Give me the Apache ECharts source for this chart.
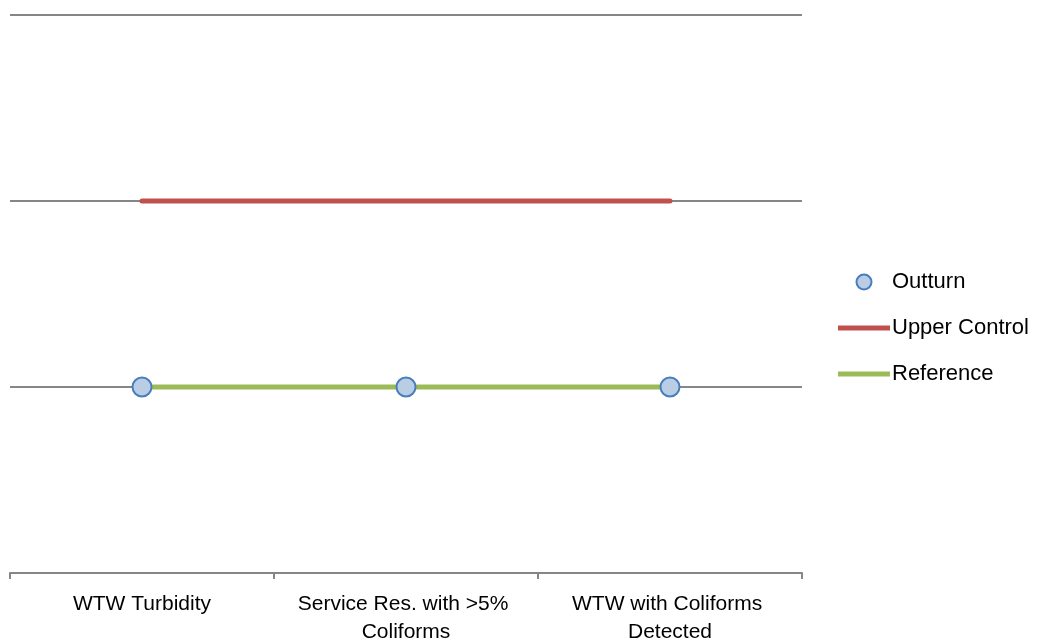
<!DOCTYPE html>
<html>
<head>
<meta charset="utf-8">
<script src="https://cdn.jsdelivr.net/npm/echarts@6/dist/echarts.min.js"></script>
<style>
    html, body { margin: 0; padding: 0; background: #fff; }
    #chart { width: 1039px; height: 642px; }
</style>
</head>
<body>
<div id="chart"></div>
<script>
var categories = ['WTW Turbidity', 'Service Res. with >5% Coliforms', 'WTW with Coliforms Detected'];
var outturn = [1, 1, 1];
var upperControl = [2, 2, 2];
var reference = [1, 1, 1];

var myChart = echarts.init(document.getElementById('chart'));

var lineIcon = 'path://M0,0L52,0L52,5L0,5Z';

option = {
    animation: false,
    textStyle: {
        fontFamily: 'Liberation Sans'
    },
    grid: {
        left: 10,
        right: 237,
        top: 15,
        bottom: 69,
        outerBoundsMode: 'none',
        containLabel: false
    },
    legend: {
        orient: 'vertical',
        left: 833,
        top: 266,
        itemWidth: 52,
        itemHeight: 15,
        itemGap: 24,
        textStyle: {
            fontSize: 22,
            color: '#000',
            lineHeight: 20,
            padding: [0, 0, 0, -3]
        },
        data: [
            {name: 'Outturn', icon: 'circle'},
            {name: 'Upper Control', icon: lineIcon},
            {name: 'Reference', icon: lineIcon}
        ]
    },
    xAxis: {
        type: 'category',
        data: categories,
        axisLine: {
            lineStyle: {color: '#868686', width: 2}
        },
        axisTick: {
            show: true,
            length: 6,
            lineStyle: {color: '#868686', width: 2}
        },
        axisLabel: {
            margin: 17,
            fontSize: 21,
            color: '#000',
            lineHeight: 28,
            width: 250,
            overflow: 'break',
            interval: 0
        }
    },
    yAxis: {
        type: 'value',
        min: 0,
        max: 3,
        interval: 1,
        axisLabel: {show: false},
        axisLine: {show: false},
        axisTick: {show: false},
        splitLine: {
            lineStyle: {color: '#868686', width: 2}
        }
    },
    series: [{
        name: 'Upper Control',
        type: 'line',
        data: upperControl,
        symbol: 'none',
        color: '#c0504d',
        lineStyle: {width: 5, cap: 'round'},
        z: 2
    }, {
        name: 'Reference',
        type: 'line',
        data: reference,
        symbol: 'none',
        color: '#9bbb59',
        lineStyle: {width: 5, cap: 'round'},
        z: 2
    }, {
        name: 'Outturn',
        type: 'scatter',
        data: outturn,
        symbol: 'circle',
        symbolSize: 19,
        itemStyle: {
            color: '#b9cde5',
            borderColor: '#4a7ebb',
            borderWidth: 2,
            opacity: 1
        },
        z: 5
    }]
};

myChart.clear();
myChart.setOption(option);
</script>
</body>
</html>
